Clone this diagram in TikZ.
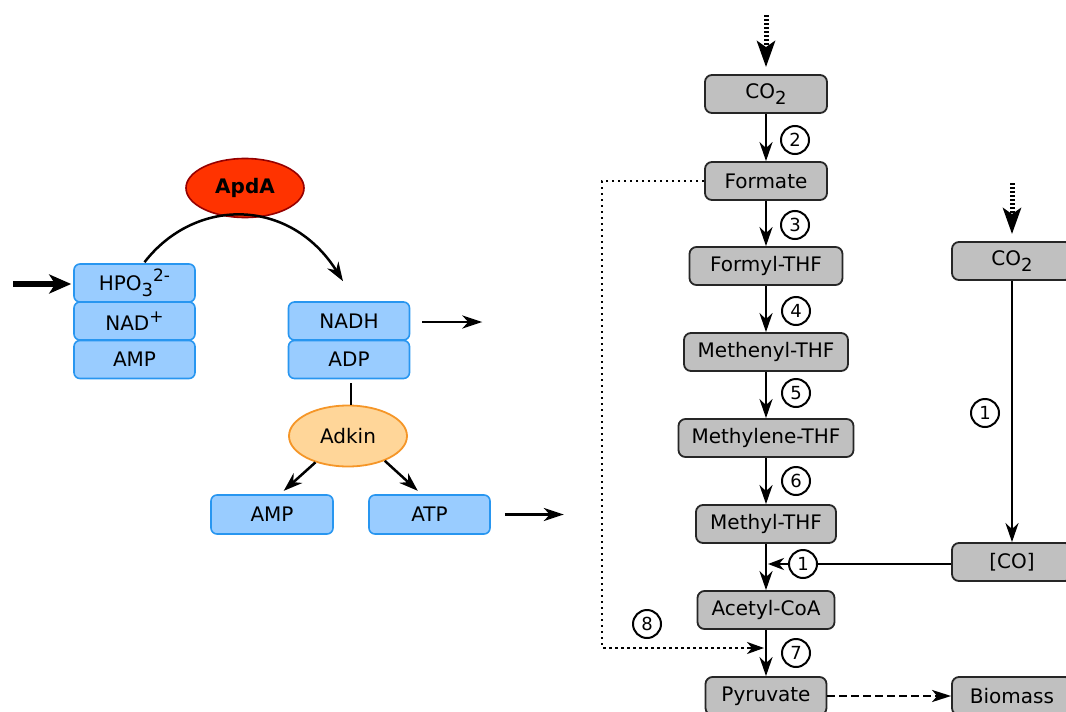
\documentclass[tikz,border=0pt]{standalone}
\usepackage{fontspec}
\setmainfont{DejaVu Sans}
\usetikzlibrary{arrows.meta,shapes.geometric,calc}
\definecolor{boxgray}{RGB}{192,192,192}
\definecolor{bluefill}{RGB}{153,204,255}
\definecolor{blueline}{RGB}{40,150,240}
\definecolor{apdafill}{RGB}{255,51,0}
\definecolor{apdaline}{RGB}{150,0,0}
\definecolor{adkfill}{RGB}{255,214,153}
\definecolor{adkline}{RGB}{245,150,40}
\newcommand{\fs}{\fontsize{20}{23}\selectfont}
\newcommand{\dn}[1]{\raisebox{-0.3em}{\fontsize{18}{18}\selectfont #1}}
\newcommand{\upsc}[1]{\raisebox{0.42em}{\fontsize{17}{17}\selectfont #1}}
\begin{document}
\begin{tikzpicture}[x=1pt,y=-1pt,
  gbox/.style={draw=black!85, fill=boxgray, rounded corners=7pt, line width=1.8pt, minimum height=38pt, inner sep=0pt, font=\fs},
  bbox/.style={draw=blueline, fill=bluefill, rounded corners=6pt, line width=1.6pt, minimum height=38pt, inner sep=0pt, font=\fs},
  num/.style={circle, draw, line width=2pt, minimum size=28pt, inner sep=0pt, font=\fontsize{18}{18}\selectfont},
  arr/.style={line width=2.5pt, -{Stealth[length=19pt,width=13pt,inset=6pt]}},
  thickdot/.style={line width=5pt, dash pattern=on 2pt off 2pt, -{Stealth[length=26pt,width=18pt,inset=6pt]}},
  dotline/.style={line width=2.4pt, dash pattern=on 2.4pt off 3.6pt},
  dashline/.style={line width=2.5pt, dash pattern=on 8pt off 4pt},
  bigarr/.style={line width=6pt, -{Stealth[length=22pt,width=19pt,inset=6pt]}},
  midarr/.style={line width=2.8pt, -{Stealth[length=20pt,width=13pt,inset=6pt]}}
]
\useasboundingbox (0,0) rectangle (1066,712);
\clip (0,0) rectangle (1066,712);

% ---------- left part ----------
\node[ellipse, draw=apdaline, fill=apdafill, line width=1.6pt, minimum width=118pt, minimum height=59pt, inner sep=0pt, font=\fs\bfseries] (apda) at (245,188) {ApdA};
\node[bbox, minimum width=121pt] (hpo) at (134.5,283) {HPO\dn{3}\upsc{2-}};
\node[bbox, minimum width=121pt] (nad) at (134.5,321) {NAD\upsc{+}};
\node[bbox, minimum width=121pt] (amp1) at (134.5,359.5) {AMP};
\node[bbox, minimum width=121pt] (nadh) at (349,321) {NADH};
\node[bbox, minimum width=121pt] (adp) at (349,359.5) {ADP};
\node[ellipse, draw=adkline, fill=adkfill, line width=1.8pt, minimum width=118pt, minimum height=61pt, inner sep=0pt, font=\fs] (adkin) at (348,436) {Adkin};
\node[bbox, minimum width=122pt, minimum height=39pt] (amp2) at (272,514.5) {AMP};
\node[bbox, minimum width=121pt, minimum height=39pt] (atp) at (429.5,514.5) {ATP};

\coordinate (in1) at (13,284);
\draw[bigarr, shorten >=2pt] (in1) -- (hpo.west |- in1);
\draw[arr] ($(hpo.north)+(10,-1)$) .. controls (195,197) and (290,197) .. ($(nadh.north)+(-6,-20)$);
\draw[midarr] ($(nadh.east)+(12,1)$) -- ($(nadh.east)+(72,1)$);
\draw[line width=2.5pt] ($(adp.south)+(2,4)$) -- (adkin.north -| 351,0);
\draw[arr, shorten >=5pt] (adkin.219) -- ($(amp2.north)+(8,0)$);
\draw[arr, shorten >=5pt] (adkin.-34) -- ($(atp.north)+(-8,0)$);
\draw[midarr] ($(atp.east)+(14,0)$) -- ($(atp.east)+(73,0)$);

% ---------- right part ----------
\node[gbox, minimum width=122pt] (co2a) at (766,94) {CO\dn{2}};
\node[gbox, minimum width=122pt] (formate) at (766,181) {Formate};
\node[gbox, minimum width=153pt] (formyl) at (766,266) {Formyl-THF};
\node[gbox, minimum width=164pt] (methenyl) at (766,352) {Methenyl-THF};
\node[gbox, minimum width=175pt] (methylene) at (766,438) {Methylene-THF};
\node[gbox, minimum width=140pt] (methyl) at (766,524) {Methyl-THF};
\node[gbox, minimum width=137pt] (acetyl) at (766,610) {Acetyl-CoA};
\node[gbox, minimum width=121pt] (pyruvate) at (766,696) {Pyruvate};
\node[gbox, minimum width=120pt] (co2b) at (1012,261) {CO\dn{2}};
\node[gbox, minimum width=120pt] (co) at (1012,562) {[CO]};
\node[gbox, minimum width=120pt] (biomass) at (1012,696) {Biomass};

\node[num] (n2) at (795,140) {2};
\node[num] (n3) at (795,225) {3};
\node[num] (n4) at (796,311) {4};
\node[num] (n5) at (796,393) {5};
\node[num] (n6) at (796,481) {6};
\node[num] (n7) at (796,653) {7};
\node[num] (n8) at (647,624) {8};
\node[num] (n1j) at (803,564) {1};
\node[num] (n1r) at (985,413) {1};

\coordinate (s1) at (766,15);
\coordinate (s2) at (1012,183);
\draw[thickdot, shorten >=7pt] (s1) -- (co2a.north);
\draw[thickdot, shorten >=7pt] (s2) -- (co2b.north);

\draw[arr] (co2a.south) -- (formate.north);
\draw[arr] (formate.south) -- (formyl.north);
\draw[arr] (formyl.south) -- (methenyl.north);
\draw[arr] (methenyl.south) -- (methylene.north);
\draw[arr] (methylene.south) -- (methyl.north);
\draw[arr] (methyl.south) -- (acetyl.north);
\draw[arr] (acetyl.south) -- (pyruvate.north);
\draw[arr] (co2b.south) -- (co.north);
\draw[line width=2.5pt] (co.west |- n1j) -- (n1j.east);
\draw[line width=2.5pt, -{Stealth[length=16pt,width=12pt,inset=5pt]}] (n1j.west) -- ($(n1j.west -| methyl.south)+(2,0)$);

\coordinate (t8) at (764,648);
\draw[dotline] (formate.west) -- ++(-102,0) |- ($(t8)+(-14,0)$);
\draw[line width=2.5pt, -{Stealth[length=17pt,width=12pt,inset=5pt]}] ($(t8)+(-15,0)$) -- (t8);
\draw[dashline, -{Stealth[length=19pt,width=12pt,inset=5pt]}] (pyruvate.east) -- (biomass.west);
\end{tikzpicture}
\end{document}
